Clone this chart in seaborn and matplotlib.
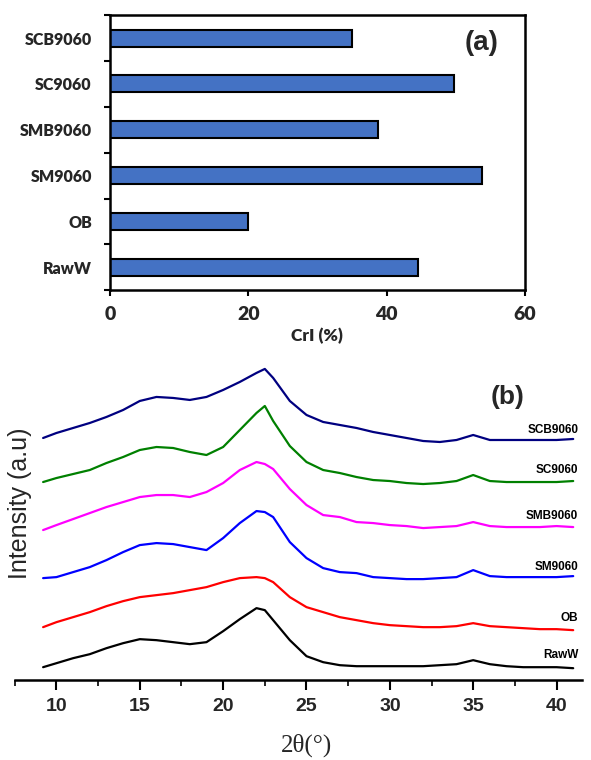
import numpy as np
import pandas as pd
import matplotlib
matplotlib.use("Agg")
import matplotlib.pyplot as plt
import seaborn as sns
from matplotlib.ticker import MultipleLocator, FixedLocator

sns.set_theme(style="white")
plt.rcParams['font.family'] = ['Liberation Sans', 'DejaVu Sans']

# --- (a) crystallinity index ---
samples = ["SCB9060", "SC9060", "SMB9060", "SM9060", "OB", "RawW"]
cri = [35.0, 49.7, 38.8, 53.8, 19.9, 44.6]

# --- (b) XRD patterns, intensity in arbitrary units (already offset) ---
two_theta = [9.2, 10, 11, 12, 13, 14, 15, 16, 17, 18, 19, 20, 21, 22, 22.5, 23,
             24, 25, 26, 27, 28, 29, 30, 31, 32, 33, 34, 35, 36, 37, 38, 39, 40, 41]
raww = [13, 17, 22, 26, 32, 37, 41, 40, 38, 36, 38, 49, 61, 72, 70, 60, 40, 24,
        18, 15, 14, 14, 14, 14, 14, 15, 16, 20, 16, 14, 13, 13, 13, 12]
ob = [53, 58, 63, 68, 74, 79, 83, 85, 87, 90, 93, 98, 102, 103, 102, 98, 83, 73,
      68, 63, 60, 57, 55, 54, 53, 53, 54, 57, 54, 53, 52, 51, 51, 50]
sm9060 = [102, 103, 108, 113, 120, 128, 135, 137, 136, 133, 130, 142, 157, 169, 168,
          163, 138, 122, 112, 108, 107, 103, 102, 101, 101, 102, 103, 110, 104, 103,
          103, 103, 103, 104]
smb9060 = [150, 155, 161, 167, 173, 178, 183, 185, 185, 183, 188, 197, 210, 218, 216,
           211, 191, 175, 165, 163, 158, 157, 155, 154, 152, 153, 154, 158, 154, 153,
           153, 153, 154, 153]
sc9060 = [198, 202, 206, 210, 217, 223, 230, 233, 232, 228, 225, 233, 250, 267, 274,
          259, 234, 218, 210, 207, 203, 200, 199, 197, 196, 197, 199, 205, 199, 198,
          198, 198, 198, 199]
scb9060 = [242, 247, 252, 257, 263, 270, 279, 283, 282, 280, 283, 290, 298, 307, 311,
           302, 279, 265, 258, 255, 252, 248, 245, 242, 239, 238, 240, 245, 240, 240,
           240, 240, 240, 241]

xrd_names = ["SCB9060", "SC9060", "SMB9060", "SM9060", "OB", "RawW"]
xrd_values = [scb9060, sc9060, smb9060, sm9060, ob, raww]
xrd_colors = ["#000080", "#008000", "#FF00FF", "#0000FF", "#FF0000", "#000000"]
label_y = [250, 210, 164, 113, 62, 25]

fig = plt.figure(figsize=(5.91, 7.60), dpi=100)

# ---------------- panel (a) ----------------
ax1 = fig.add_axes([0.186, 0.618, 0.702, 0.362])
df_a = pd.DataFrame({"sample": samples, "cri": cri})
sns.barplot(data=df_a, x="cri", y="sample", orient="h", color="#4472C4",
            saturation=1, width=0.37, edgecolor="black", linewidth=1.5, ax=ax1)
ax1.set_xlim(0, 60)
ax1.set_ylim(5.5, -0.5)
ax1.set_xticks([0, 20, 40, 60])
ax1.yaxis.set_minor_locator(FixedLocator(np.arange(-0.5, 6.0, 1.0)))
ax1.tick_params(axis="y", which="major", length=0, pad=13)
ax1.tick_params(axis="y", which="minor", length=4, width=1.5, direction="out",
                color="black", left=True)
ax1.tick_params(axis="x", length=4, width=1.5, direction="out", color="black",
                bottom=True, pad=7)
for lab in ax1.get_yticklabels():
    lab.set_fontfamily("Lato")
    lab.set_fontweight("heavy")
    lab.set_fontsize(11.5)
for lab in ax1.get_xticklabels():
    lab.set_fontfamily("Lato")
    lab.set_fontweight("heavy")
    lab.set_fontsize(14)
ax1.set_ylabel("")
ax1.set_xlabel("CrI (%)", fontfamily="Lato", fontweight="heavy", fontsize=12.5,
               labelpad=4)
for sp in ax1.spines.values():
    sp.set_color("black")
    sp.set_linewidth(1.8)
ax1.text(0.895, 0.9, "(a)", transform=ax1.transAxes, ha="center", va="center",
         fontsize=20, fontweight="bold")

# ---------------- panel (b) ----------------
ax2 = fig.add_axes([0.025, 0.105, 0.959, 0.428])
for name, vals, col, ly in zip(xrd_names, xrd_values, xrd_colors, label_y):
    sns.lineplot(x=two_theta, y=vals, color=col, linewidth=1.6, ax=ax2)
    ax2.text(41.3, ly, name, ha="right", va="center", fontsize=8.5,
             fontweight="bold", color="black")
ax2.set_xlim(7.5, 41.5)
ax2.set_ylim(0, 325)
ax2.xaxis.set_major_locator(MultipleLocator(5))
ax2.xaxis.set_minor_locator(MultipleLocator(2.5))
ax2.set_yticks([])
ax2.tick_params(axis="x", which="major", length=7, width=1.5, direction="out",
                color="black", bottom=True, pad=6, labelsize=14)
ax2.tick_params(axis="x", which="minor", length=4, width=1.2, direction="out",
                color="black", bottom=True)
for lab in ax2.get_xticklabels():
    lab.set_fontweight("bold")
for s in ["left", "right", "top"]:
    ax2.spines[s].set_visible(False)
ax2.spines["bottom"].set_color("black")
ax2.spines["bottom"].set_linewidth(1.8)

fig.text(508 / 591, 1 - 397 / 760, "(b)", ha="center", va="center",
         fontsize=19, fontweight="bold")
fig.text(20 / 591, 1 - 503 / 760, "Intensity (a.u)", rotation=90, ha="center",
         va="center", fontsize=18)
fig.text(306 / 591, 1 - 745 / 760, "2θ(°)", ha="center", va="center",
         fontsize=18, fontfamily="Liberation Serif")

fig.savefig("out.png", dpi=100)
